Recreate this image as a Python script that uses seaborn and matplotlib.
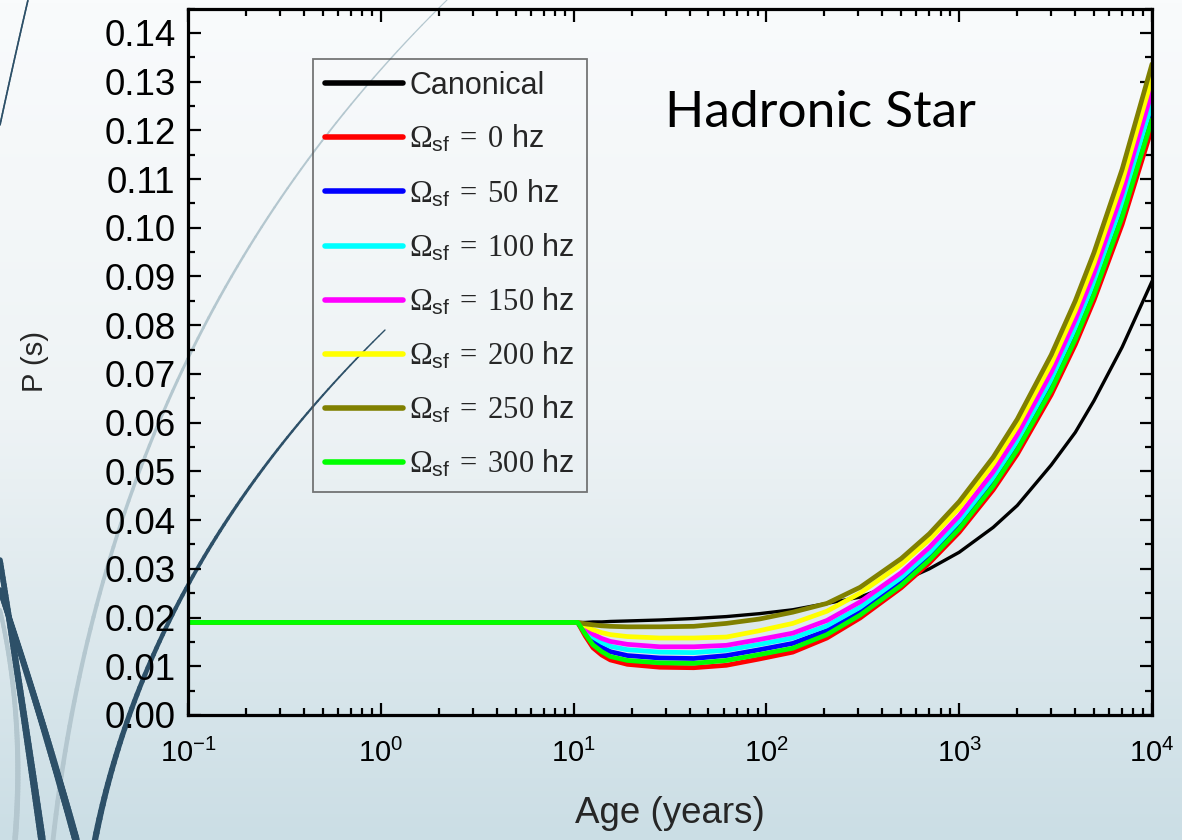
import numpy as np
import pandas as pd
import matplotlib
matplotlib.use("Agg")
import matplotlib.pyplot as plt
import seaborn as sns
from matplotlib.collections import LineCollection
from matplotlib.colors import LinearSegmentedColormap
from matplotlib.ticker import LogLocator, MultipleLocator, NullFormatter
from matplotlib import font_manager

# ---------------- data ----------------
age = [0.1, 10.5, 11.5, 12.6, 14, 15.5, 19, 28, 42, 62, 92, 137, 206, 306,
       500, 700, 1000, 1500, 2000, 3000, 4000, 5000, 7000, 10000]

p_canonical = [0.019, 0.019, 0.0190, 0.0191, 0.0191, 0.0192, 0.0193, 0.0195, 0.0198, 0.0202,
               0.0208, 0.0216, 0.0229, 0.0242, 0.0274, 0.0300, 0.0334, 0.0385, 0.0430, 0.0513,
               0.0580, 0.0645, 0.0755, 0.0890]
p_0 = [0.019, 0.019, 0.0162, 0.0138, 0.0123, 0.0113, 0.0104, 0.0098, 0.0097, 0.0102,
       0.0115, 0.0129, 0.0158, 0.0199, 0.0261, 0.0312, 0.0375, 0.0462, 0.0535, 0.0657,
       0.0760, 0.0851, 0.1007, 0.1205]
p_50 = [0.019, 0.019, 0.0170, 0.0151, 0.0139, 0.0130, 0.0122, 0.0117, 0.0116, 0.0122,
        0.0134, 0.0147, 0.0173, 0.0211, 0.0272, 0.0322, 0.0386, 0.0474, 0.0548, 0.0672,
        0.0776, 0.0868, 0.1027, 0.1228]
p_100 = [0.019, 0.019, 0.0175, 0.0160, 0.0149, 0.0141, 0.0134, 0.0129, 0.0128, 0.0133,
         0.0145, 0.0158, 0.0183, 0.0221, 0.0282, 0.0333, 0.0398, 0.0487, 0.0562, 0.0688,
         0.0794, 0.0888, 0.1050, 0.1255]
p_150 = [0.019, 0.019, 0.0178, 0.0166, 0.0157, 0.0151, 0.0145, 0.0140, 0.0140, 0.0143,
         0.0155, 0.0168, 0.0194, 0.0232, 0.0292, 0.0344, 0.0409, 0.0499, 0.0575, 0.0703,
         0.0811, 0.0906, 0.1071, 0.1280]
p_200 = [0.019, 0.019, 0.0183, 0.0175, 0.0169, 0.0165, 0.0161, 0.0158, 0.0158, 0.0160,
         0.0173, 0.0188, 0.0213, 0.0250, 0.0309, 0.0360, 0.0425, 0.0515, 0.0592, 0.0721,
         0.0830, 0.0927, 0.1095, 0.1307]
p_250 = [0.019, 0.019, 0.0187, 0.0185, 0.0183, 0.0182, 0.0181, 0.0181, 0.0182, 0.0188,
         0.0197, 0.0211, 0.0229, 0.0262, 0.0321, 0.0372, 0.0438, 0.0529, 0.0607, 0.0739,
         0.0850, 0.0949, 0.1120, 0.1336]
p_300 = [0.019, 0.019, 0.0166, 0.0144, 0.0130, 0.0120, 0.0112, 0.0107, 0.0106, 0.0112,
         0.0124, 0.0137, 0.0165, 0.0205, 0.0266, 0.0318, 0.0382, 0.0470, 0.0544, 0.0667,
         0.0771, 0.0863, 0.1022, 0.1222]

series_names = ["Canonical", "0", "50", "100", "150", "200", "250", "300"]
series_values = [p_canonical, p_0, p_50, p_100, p_150, p_200, p_250, p_300]
series_colors = ["#000000", "#ff0000", "#0000ff", "#00ffff", "#ff00ff", "#ffff00", "#808000", "#00ff00"]

y_ticks = [0.00, 0.01, 0.02, 0.03, 0.04, 0.05, 0.06, 0.07, 0.08, 0.09, 0.10, 0.11, 0.12, 0.13, 0.14]

# ---------------- styling ----------------
sns.set_theme(style="white")
plt.rcParams["font.family"] = ["Liberation Sans", "DejaVu Sans"]
plt.rcParams["mathtext.fontset"] = "custom"
plt.rcParams["mathtext.rm"] = "Liberation Serif"
plt.rcParams["mathtext.it"] = "Liberation Serif:italic"
plt.rcParams["mathtext.sf"] = "Liberation Sans"
plt.rcParams["axes.unicode_minus"] = False

available = {f.name for f in font_manager.fontManager.ttflist}
narrow = "Liberation Sans Narrow" if "Liberation Sans Narrow" in available else None

W, H = 1182, 840
fig = plt.figure(figsize=(W / 100, H / 100), dpi=100)

# background gradient + decorative arcs
bg = fig.add_axes([0, 0, 1, 1], zorder=-10)
cmap = LinearSegmentedColormap.from_list("bg", ["#f9fbfc", "#eef3f5", "#cbdee5"])
grad = np.linspace(0, 1, 256).reshape(-1, 1)
bg.imshow(grad, aspect="auto", cmap=cmap, extent=[0, W, H, 0])
bg.set_xlim(0, W)
bg.set_ylim(H, 0)
bg.axis("off")


def arc(p0, pc, p1, w0, w1, color):
    t = np.linspace(0, 1, 80)
    x = (1 - t) ** 2 * p0[0] + 2 * (1 - t) * t * pc[0] + t ** 2 * p1[0]
    y = (1 - t) ** 2 * p0[1] + 2 * (1 - t) * t * pc[1] + t ** 2 * p1[1]
    pts = np.column_stack([x, y]).reshape(-1, 1, 2)
    segs = np.concatenate([pts[:-1], pts[1:]], axis=1)
    lc = LineCollection(segs, linewidths=np.linspace(w0, w1, len(segs)), colors=color,
                        capstyle="round")
    bg.add_collection(lc)


dark = "#2d5068"
light = "#b4c7cf"
arc((447, 0), (110, 330), (53, 840), 0.8, 3.5, light)
arc((0, 610), (25, 720), (15, 840), 3.0, 4.0, light)
arc((0, 560), (22, 700), (42, 840), 4.0, 5.5, dark)
arc((0, 590), (40, 710), (76, 840), 4.0, 5.5, dark)
arc((385, 330), (150, 560), (95, 840), 1.0, 4.5, dark)
arc((28, 0), (14, 60), (0, 125), 1.2, 1.2, dark)

# main axes
ax = fig.add_axes([188 / W, 1 - 715 / H, (1152 - 188) / W, (715 - 8.5) / H], zorder=1)
ax.set_facecolor("none")

lines = []
for name, vals, col in zip(series_names, series_values, series_colors):
    df = pd.DataFrame({"age": age, "P": vals})
    lw = 2.4 if name == "Canonical" else 3.4
    sns.lineplot(data=df, x="age", y="P", color=col, linewidth=lw, ax=ax,
                 estimator=None, sort=False)
    lines.append(ax.get_lines()[-1])

ax.set_xscale("log")
ax.set_xlim(0.1, 1e4)
ax.set_ylim(0, 0.145)
ax.set_yticks(y_ticks)
ax.set_yticklabels([f"{v:.2f}" for v in y_ticks])
ax.yaxis.set_minor_locator(MultipleLocator(0.005))
ax.xaxis.set_major_locator(LogLocator(base=10, numticks=20))
ax.xaxis.set_minor_locator(LogLocator(base=10, subs=np.arange(2, 10), numticks=20))
ax.xaxis.set_minor_formatter(NullFormatter())

for s in ax.spines.values():
    s.set_linewidth(2.3)
    s.set_color("black")
    s.set_visible(True)

ax.tick_params(which="major", direction="in", length=9, width=1.6, top=True, right=True,
               bottom=True, left=True, colors="black")
ax.tick_params(which="minor", direction="in", length=5, width=1.6, top=True, right=True,
               bottom=True, left=True, colors="black")
ax.tick_params(axis="y", which="major", labelsize=26.5, pad=9)
ax.tick_params(axis="x", which="major", labelsize=24 if narrow else 21, pad=17)
if narrow:
    for lab in ax.get_xticklabels():
        lab.set_fontfamily(narrow)

ax.set_xlabel("Age (years)", fontsize=26.5, labelpad=20)
ax.set_ylabel("P (s)", fontsize=21, labelpad=40)

labels = ["Canonical"] + [r"$\Omega_{\mathsf{sf}}\;=\;\mathrm{%s}$ hz" % n for n in series_names[1:]]
leg = ax.legend(lines, labels, loc="upper left", bbox_to_anchor=(0.1297, 0.929),
                borderaxespad=0, fontsize=22, frameon=True, fancybox=False,
                handlelength=2.55, handletextpad=0.2, labelspacing=0.74,
                borderpad=0.4)
leg.get_frame().set_facecolor("none")
leg.get_frame().set_edgecolor("#555555")
leg.get_frame().set_linewidth(1.3)
for h in leg.get_lines():
    h.set_linewidth(4.0)

ax.text(0.495, 0.832, "Hadronic Star", transform=ax.transAxes, fontsize=37,
        family=["Lato", "DejaVu Sans"], fontweight="normal", va="baseline", ha="left",
        color="black")

fig.savefig("out.png", dpi=100)
